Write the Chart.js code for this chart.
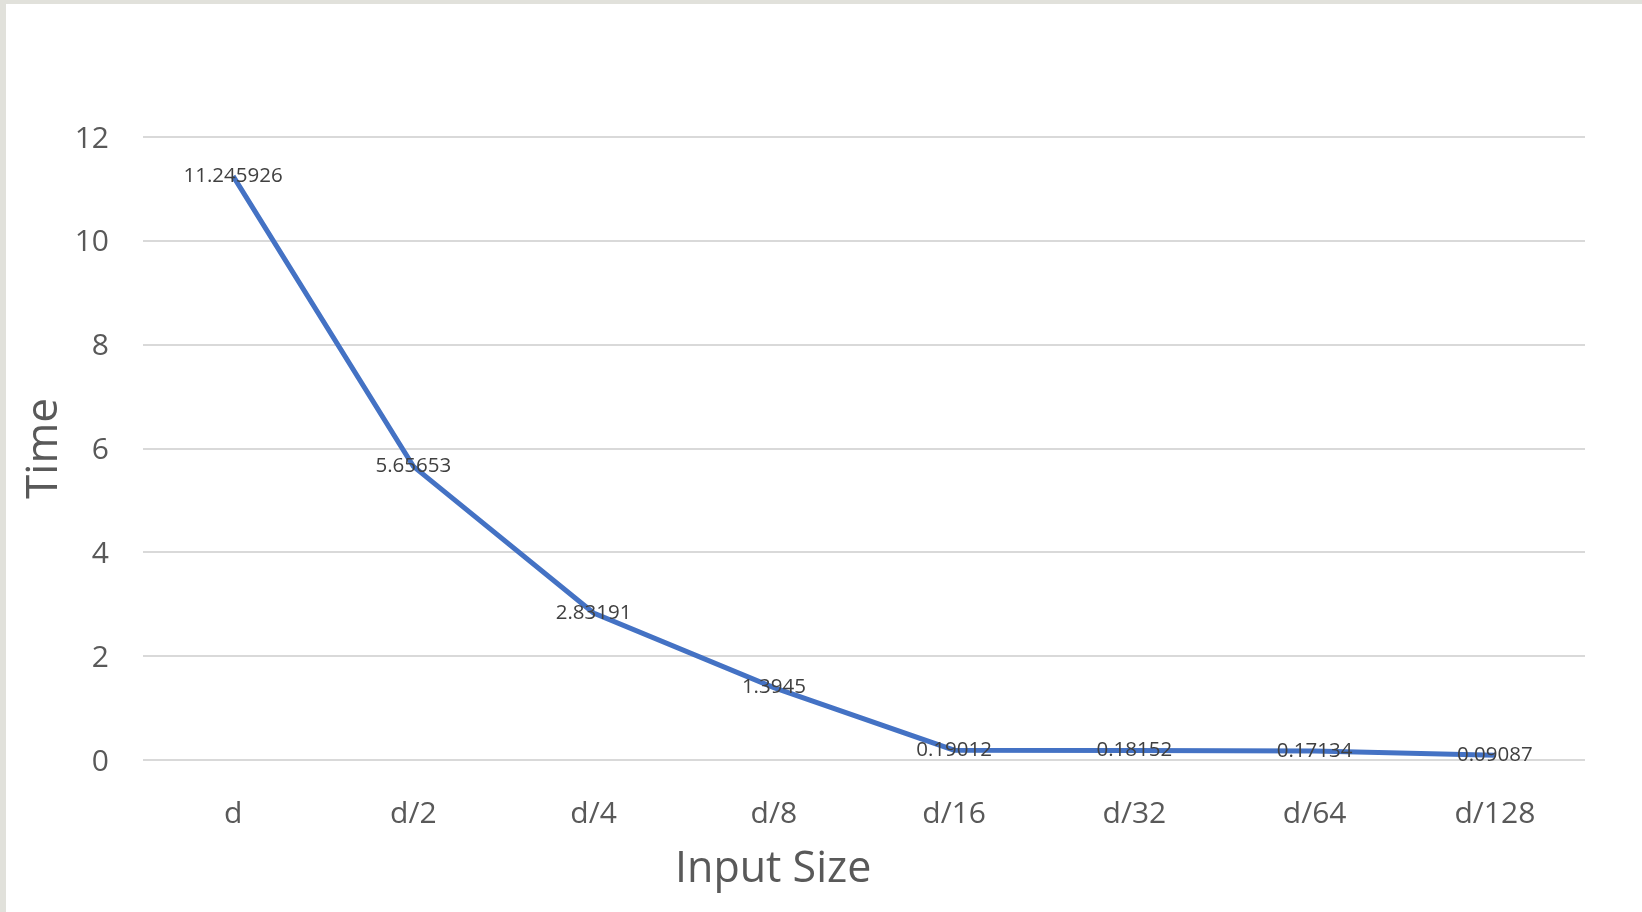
<!DOCTYPE html>
<html>
<head>
<meta charset="utf-8">
<script src="https://cdn.jsdelivr.net/npm/chart.js@4/dist/chart.umd.min.js"></script>
<style>
  html, body { margin: 0; padding: 0; background: #e1e1db; overflow: hidden; }
  #frame { position: absolute; left: 6px; top: 4px; width: 1636px; height: 908px; background: #ffffff; }
</style>
</head>
<body>
<div id="frame"><canvas id="chart"></canvas></div>
<script>
// Input sizes on the x axis
const inputSizes = ['d', 'd/2', 'd/4', 'd/8', 'd/16', 'd/32', 'd/64', 'd/128'];
// Measured run time for each input size
const timeValues = [11.245926, 5.65653, 2.83191, 1.3945, 0.19012, 0.18152, 0.17134, 0.09087];
// Y axis range and step
const yMin = 0;
const yMax = 12;
const yStep = 2;
// Axis titles
const xTitle = 'Input Size';
const yTitle = 'Time';

const FONT = '"Open Sans", "Noto Sans", sans-serif';

// Writes each point's value centred on the point itself
const pointValueLabels = {
  id: 'pointValueLabels',
  afterDatasetsDraw(chart) {
    const ctx = chart.ctx;
    ctx.save();
    ctx.font = '20.5px ' + FONT;
    ctx.fillStyle = '#404040';
    ctx.textAlign = 'center';
    ctx.textBaseline = 'middle';
    chart.data.datasets.forEach((ds, di) => {
      const meta = chart.getDatasetMeta(di);
      meta.data.forEach((pt, i) => {
        ctx.fillText(String(ds.data[i]), pt.x, pt.y);
      });
    });
    ctx.restore();
  }
};

// The x axis title sits left of the plot centre, below the category labels
const xAxisTitle = {
  id: 'xAxisTitle',
  afterDraw(chart) {
    const area = chart.chartArea;
    const ctx = chart.ctx;
    ctx.save();
    ctx.font = '43px ' + FONT;
    ctx.fillStyle = '#595959';
    ctx.textAlign = 'center';
    ctx.textBaseline = 'middle';
    ctx.fillText(xTitle, area.left + (area.right - area.left) * 0.437, area.bottom + 110);
    ctx.restore();
  }
};

new Chart(document.getElementById('chart'), {
  type: 'line',
  data: {
    labels: inputSizes,
    datasets: [{
      data: timeValues,
      borderColor: '#4472C4',
      borderWidth: 5,
      pointRadius: 0,
      pointHoverRadius: 0,
      tension: 0,
      fill: false
    }]
  },
  options: {
    responsive: true,
    maintainAspectRatio: false,
    animation: false,
    layout: { padding: { top: 133, right: 57, bottom: 0, left: 0 } },
    plugins: {
      legend: { display: false },
      tooltip: { enabled: false }
    },
    scales: {
      x: {
        offset: true,
        grid: { display: false, drawTicks: false, offset: true },
        border: { display: false },
        ticks: {
          color: '#595959',
          font: { family: FONT, size: 30 },
          padding: 36,
          maxRotation: 0
        },
        afterFit(scale) { scale.height = 152; }
      },
      y: {
        min: yMin,
        max: yMax,
        grid: { color: '#d9d9d9', lineWidth: 2, drawTicks: false },
        border: { display: false },
        ticks: {
          stepSize: yStep,
          color: '#595959',
          font: { family: FONT, size: 30 },
          padding: 34,
          labelOffset: 2
        },
        title: {
          display: true,
          text: yTitle,
          color: '#595959',
          font: { family: FONT, size: 44 },
          padding: { top: 12, bottom: 0 }
        },
        afterFit(scale) { scale.width = 137; }
      }
    }
  },
  plugins: [pointValueLabels, xAxisTitle]
});
</script>
</body>
</html>
